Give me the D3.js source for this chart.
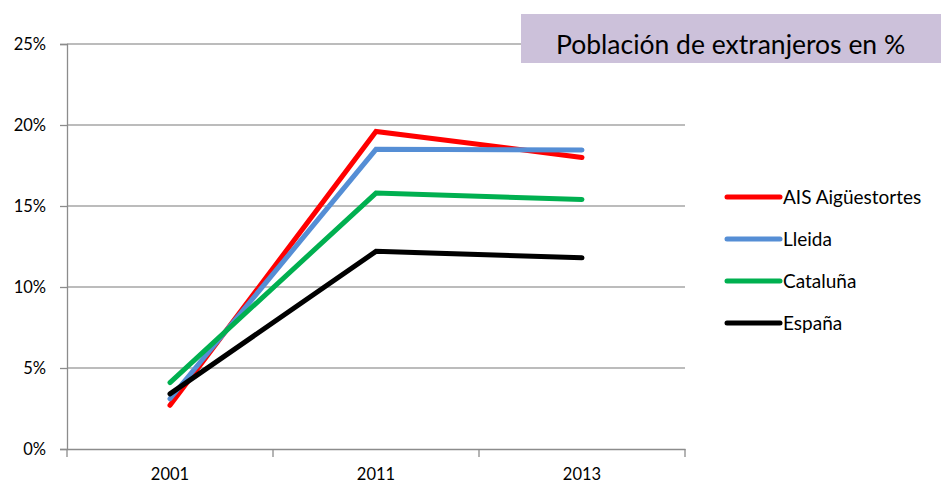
<!DOCTYPE html>
<html><head><meta charset="utf-8">
<script src="https://cdn.jsdelivr.net/npm/d3@7/dist/d3.min.js"></script>
<style>body{margin:0;background:#fff;}svg{display:block;font-family:Lato,"Open Sans",sans-serif;}</style>
</head><body><svg id="c" width="941" height="484"></svg>
<script>
const categories = ["2001","2011","2013"];
const seriesNames = ["AIS Aigüestortes","Lleida","Cataluña","España"];
const aisValues = [2.7, 19.6, 18.0];
const lleidaValues = [3.1, 18.5, 18.45];
const catalunaValues = [4.1, 15.8, 15.4];
const espanaValues = [3.4, 12.2, 11.8];
const yTicks = [0,5,10,15,20,25];
const titleText = "Población de extranjeros en %";
const colors = ["#ff0000","#558ed5","#00b050","#000000"];

const series = [aisValues, lleidaValues, catalunaValues, espanaValues].map((v,i)=>({name:seriesNames[i], values:v, color:colors[i]}));

const svg = d3.select("#c");
const L=67, R=685, T=44, B=449;
const x = d3.scaleBand().domain(categories).range([L,R]);
const y = d3.scaleLinear().domain([0,25]).range([B,T]);

// gridlines
svg.append("g").selectAll("line").data(yTicks.filter(d=>d>0)).join("line")
  .attr("x1",L).attr("x2",R).attr("y1",d=>y(d)).attr("y2",d=>y(d))
  .attr("stroke","#a6a6a6").attr("stroke-width",1.3);

// y axis
const yAxis = svg.append("g").attr("transform",`translate(${L},0)`)
  .call(d3.axisLeft(y).tickValues(yTicks).tickFormat(d=>d+"%").tickSize(7).tickPadding(14));
yAxis.select(".domain").attr("stroke","#8c8c8c").attr("stroke-width",1.3);
yAxis.selectAll(".tick line").attr("stroke","#8c8c8c").attr("stroke-width",1.3);
yAxis.selectAll("text").attr("font-size",16.5).attr("font-family","Lato, sans-serif").attr("fill","#000");

// x axis
const xAxis = svg.append("g").attr("transform",`translate(0,${B})`)
  .call(d3.axisBottom(x).tickSize(0).tickPadding(19));
xAxis.select(".domain").attr("stroke","#8c8c8c").attr("stroke-width",1.3);
xAxis.selectAll("text").attr("font-size",16.5).attr("font-family","Lato, sans-serif").attr("fill","#000");
const bounds = categories.map(c=>x(c)).concat([R]);
xAxis.append("g").selectAll("line").data(bounds).join("line")
  .attr("x1",d=>d).attr("x2",d=>d).attr("y1",0).attr("y2",8)
  .attr("stroke","#8c8c8c").attr("stroke-width",1.3);

// lines
const line = d3.line().x((d,i)=>x(categories[i])+x.bandwidth()/2).y(d=>y(d));
svg.append("g").selectAll("path").data(series).join("path")
  .attr("d",d=>line(d.values)).attr("fill","none").attr("stroke",d=>d.color)
  .attr("stroke-width",5).attr("stroke-linejoin","miter").attr("stroke-linecap","round");

// legend
const lg = svg.append("g").selectAll("g").data(series).join("g")
  .attr("transform",(d,i)=>`translate(727,${197+i*42})`);
lg.append("line").attr("x1",0).attr("x2",53).attr("y1",0).attr("y2",0)
  .attr("stroke",d=>d.color).attr("stroke-width",5).attr("stroke-linecap","round");
lg.append("text").attr("x",56).attr("y",6.5).attr("font-size",19).text(d=>d.name);

// title box
svg.append("rect").attr("x",521).attr("y",14).attr("width",420).attr("height",49).attr("fill","#ccc1da");
svg.append("text").attr("x",556).attr("y",54).attr("font-size",26.5).attr("fill","#000").text(titleText);
</script></body></html>
